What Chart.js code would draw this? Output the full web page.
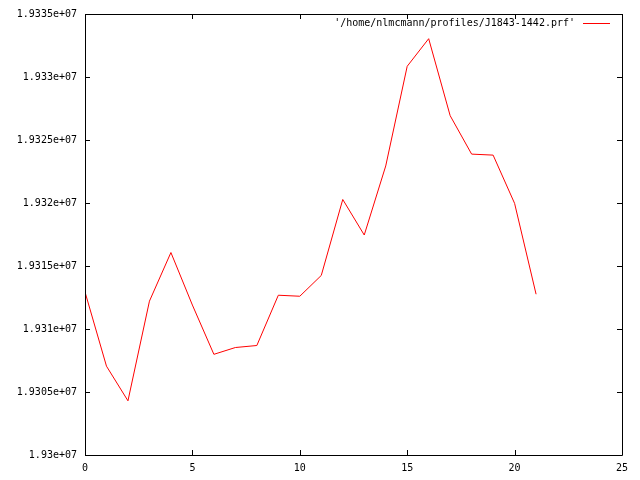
<!DOCTYPE html>
<html>
<head>
<meta charset="utf-8">
<script src="https://cdn.jsdelivr.net/npm/chart.js@4/dist/chart.umd.min.js"></script>
<style>
  html, body { margin: 0; padding: 0; background: #fff; }
  #wrap { width: 640px; height: 480px; }
</style>
</head>
<body>
<div id="wrap"><canvas id="plot" width="640" height="480"></canvas></div>
<script>
  // data
  const seriesLabel = "'/home/nlmcmann/profiles/J1843-1442.prf'";
  const bins = [0, 1, 2, 3, 4, 5, 6, 7, 8, 9, 10, 11, 12, 13, 14, 15, 16, 17, 18, 19, 20, 21];
  const counts = [
    19312940, 19307050, 19304300, 19312210, 19316070, 19311900, 19307990, 19308530,
    19308690, 19312680, 19312600, 19314250, 19320280, 19317460, 19322940, 19330850,
    19333040, 19326930, 19323880, 19323800, 19319970, 19312760
  ];
  const xTicks = [0, 5, 10, 15, 20, 25];
  const yTicks = [19300000, 19305000, 19310000, 19315000, 19320000, 19325000, 19330000, 19335000];

  const FONT = "'DejaVu Sans Mono', 'Liberation Mono', monospace";

  function fmtG(v) {
    // gnuplot style %g : 1.9305e+07
    let m = (v / 1e7).toPrecision(6);
    m = m.replace(/0+$/, "").replace(/\.$/, "");
    return m + "e+07";
  }

  // box frame + inward ticks on all sides + key in top right
  const gnuplotFrame = {
    id: "gnuplotFrame",
    afterDraw(chart) {
      const ctx = chart.ctx;
      const a = chart.chartArea;
      const xs = chart.scales.x, ys = chart.scales.y;
      ctx.save();
      ctx.strokeStyle = "#000";
      ctx.lineWidth = 1;
      ctx.beginPath();
      ctx.rect(Math.round(a.left) + 0.5, Math.round(a.top) + 0.5,
               Math.round(a.right - a.left), Math.round(a.bottom - a.top));
      ctx.stroke();

      const tl = 5;
      ctx.beginPath();
      xTicks.forEach(t => {
        const px = Math.round(xs.getPixelForValue(t)) + 0.5;
        ctx.moveTo(px, a.bottom); ctx.lineTo(px, a.bottom - tl);
        ctx.moveTo(px, a.top); ctx.lineTo(px, a.top + tl);
      });
      yTicks.forEach(t => {
        const py = Math.round(ys.getPixelForValue(t)) + 0.5;
        ctx.moveTo(a.left, py); ctx.lineTo(a.left + tl, py);
        ctx.moveTo(a.right, py); ctx.lineTo(a.right - tl, py);
      });
      ctx.stroke();

      // key
      const ky = Math.round(a.top + 9) + 0.5;
      ctx.font = "10px " + FONT;
      ctx.fillStyle = "#000";
      ctx.textAlign = "right";
      ctx.textBaseline = "middle";
      ctx.fillText(seriesLabel, a.right - 47, ky);
      ctx.strokeStyle = "#ff0000";
      ctx.beginPath();
      ctx.moveTo(a.right - 39, ky);
      ctx.lineTo(a.right - 12, ky);
      ctx.stroke();
      ctx.restore();
    }
  };

  new Chart(document.getElementById("plot"), {
    type: "line",
    data: {
      datasets: [{
        label: seriesLabel,
        data: bins.map((b, i) => ({ x: b, y: counts[i] })),
        borderColor: "#ff0000",
        borderWidth: 1,
        pointRadius: 0,
        tension: 0,
        fill: false
      }]
    },
    options: {
      responsive: false,
      animation: false,
      devicePixelRatio: 1,
      layout: { padding: { left: 0, top: 11, right: 18, bottom: 0 } },
      plugins: {
        legend: { display: false },
        tooltip: { enabled: false }
      },
      scales: {
        x: {
          type: "linear",
          min: 0, max: 25,
          afterBuildTicks(s) { s.ticks = xTicks.map(v => ({ value: v })); },
          afterFit(s) { s.height = 25; },
          grid: { display: false, drawTicks: false },
          border: { display: false },
          ticks: {
            color: "#000",
            font: { family: FONT, size: 10 },
            padding: 7,
            maxRotation: 0,
            callback: v => String(v)
          }
        },
        y: {
          type: "linear",
          min: 19300000, max: 19335000,
          afterBuildTicks(s) { s.ticks = yTicks.map(v => ({ value: v })); },
          afterFit(s) { s.width = 85; },
          grid: { display: false, drawTicks: false },
          border: { display: false },
          ticks: {
            color: "#000",
            font: { family: FONT, size: 10 },
            padding: 8,
            callback: v => fmtG(v)
          }
        }
      }
    },
    plugins: [gnuplotFrame]
  });
</script>
</body>
</html>
